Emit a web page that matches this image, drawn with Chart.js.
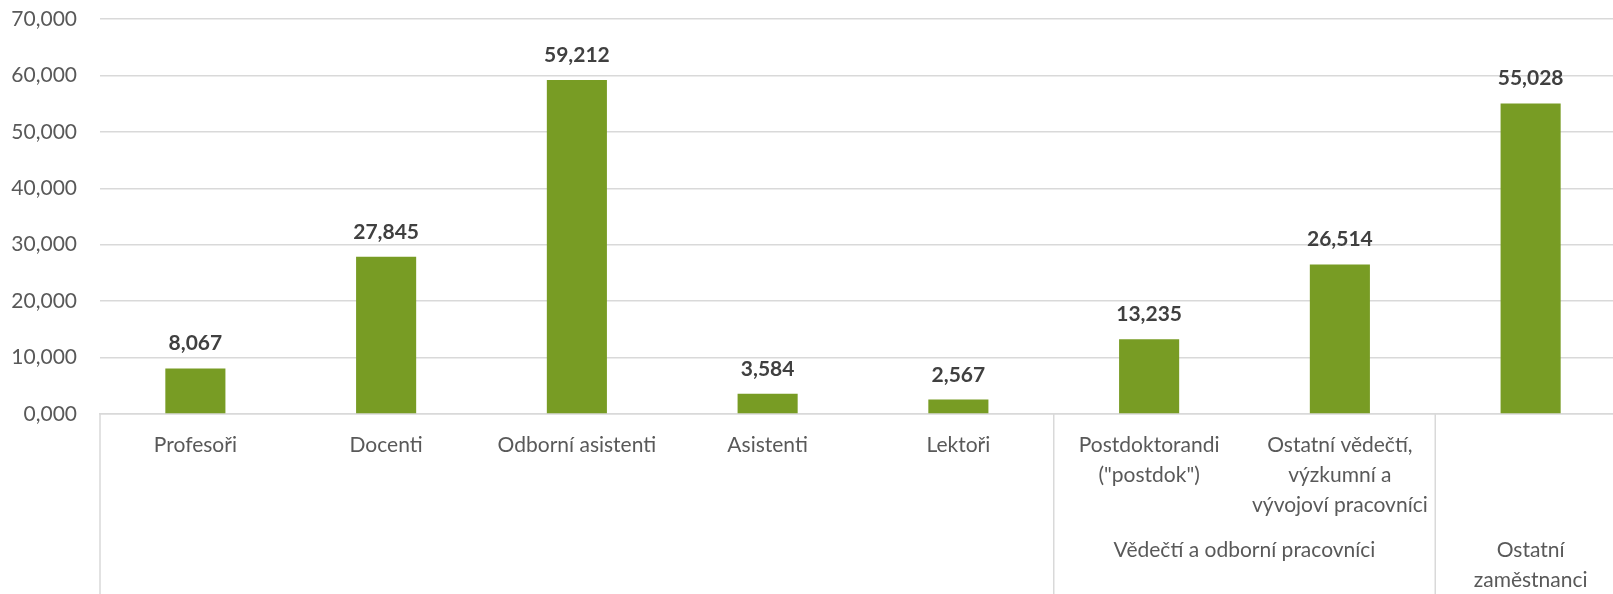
<!DOCTYPE html>
<html>
<head>
<meta charset="utf-8">
<title>Zaměstnanci</title>
<script src="https://cdn.jsdelivr.net/npm/chart.js@4.4.1/dist/chart.umd.min.js"></script>
<style>
    html, body { margin: 0; padding: 0; overflow: hidden; background: #fff; }
    canvas { display: block; }
</style>
</head>
<body>
<canvas id="staffChart" width="1630" height="594"></canvas>
<script>
//data arrays
const categories = [
    'Profesoři',
    'Docenti',
    'Odborní asistenti',
    'Asistenti',
    'Lektoři',
    ['Postdoktorandi', '("postdok")'],
    ['Ostatní vědečtí,', 'výzkumní a', 'vývojoví pracovníci'],
    ''
];
const staffValues = [8067, 27845, 59212, 3584, 2567, 13235, 26514, 55028];

//second level of the category axis: label lines and how many categories each group spans
const groupLabels = [[], ['Vědečtí a odborní pracovníci'], ['Ostatní', 'zaměstnanci']];
const groupSizes = [5, 2, 1];

const yTicks = [0, 10000, 20000, 30000, 40000, 50000, 60000, 70000];

const barColor = '#789c24';
const lineColor = '#d9d9d9';

// excel style number: 8067 -> 8,067 and 0 -> 0,000
function formatNum(v) {
    const thousands = Math.floor(v / 1000);
    const rest = String(Math.round(v % 1000)).padStart(3, '0');
    return thousands + ',' + rest;
}

//value labels above the bars
const valueLabels = {
    id: 'valueLabels',
    afterDatasetsDraw(chart) {
        const ctx = chart.ctx;
        const meta = chart.getDatasetMeta(0);
        ctx.save();
        ctx.font = 'bold 21px Lato';
        ctx.fillStyle = '#404040';
        ctx.textAlign = 'center';
        ctx.textBaseline = 'alphabetic';
        meta.data.forEach((bar, i) => {
            ctx.fillText(formatNum(staffValues[i]), bar.x, bar.y - 18);
        });
        ctx.restore();
    }
};

//group separators and group labels under the category labels
const groupAxis = {
    id: 'groupAxis',
    afterDraw(chart) {
        const ctx = chart.ctx;
        const x = chart.scales.x;
        const half = (x.getPixelForValue(1) - x.getPixelForValue(0)) / 2;
        const top = chart.chartArea.bottom;
        const bottom = chart.height;

        ctx.save();
        ctx.strokeStyle = lineColor;
        ctx.lineWidth = 1.5;
        ctx.font = '21px Lato';
        ctx.fillStyle = '#595959';
        ctx.textAlign = 'center';
        ctx.textBaseline = 'middle';

        let start = 0;
        for (let g = 0; g < groupSizes.length; g++) {
            const left = x.getPixelForValue(start) - half;
            const right = x.getPixelForValue(start + groupSizes[g] - 1) + half;

            ctx.beginPath();
            ctx.moveTo(left, top);
            ctx.lineTo(left, bottom);
            ctx.stroke();

            groupLabels[g].forEach((line, k) => {
                ctx.fillText(line, (left + right) / 2, 550 + k * 30);
            });
            start += groupSizes[g];
        }
        ctx.restore();
    }
};

Chart.defaults.font.family = 'Lato';
Chart.defaults.color = '#595959';

new Chart(document.getElementById('staffChart'), {
    type: 'bar',
    data: {
        labels: categories,
        datasets: [{
            data: staffValues,
            backgroundColor: barColor,
            barPercentage: 0.315,
            categoryPercentage: 1
        }]
    },
    options: {
        responsive: false,
        animation: false,
        layout: { padding: { top: 19, right: 4, left: 0, bottom: 0 } },
        plugins: {
            legend: { display: false },
            tooltip: { enabled: false }
        },
        scales: {
            x: {
                grid: { display: false, drawTicks: false },
                border: { display: true, color: lineColor, width: 1.5 },
                ticks: {
                    autoSkip: false,
                    maxRotation: 0,
                    minRotation: 0,
                    padding: 16,
                    font: { size: 21, lineHeight: 30 / 21 }
                },
                afterFit(scale) { scale.height = 180; }
            },
            y: {
                min: 0,
                max: 70000,
                afterBuildTicks(scale) {
                    scale.ticks = yTicks.map((v) => ({ value: v }));
                },
                grid: { color: lineColor, lineWidth: 1.5, drawTicks: false },
                border: { display: false },
                ticks: {
                    padding: 23,
                    font: { size: 21 },
                    callback: (v) => formatNum(v)
                },
                afterFit(scale) {
                    scale.width = 100;
                    // tick padding should not push the plot down
                    scale.paddingTop = 12;
                    scale.paddingBottom = 12;
                }
            }
        }
    },
    plugins: [valueLabels, groupAxis]
});
</script>
</body>
</html>
